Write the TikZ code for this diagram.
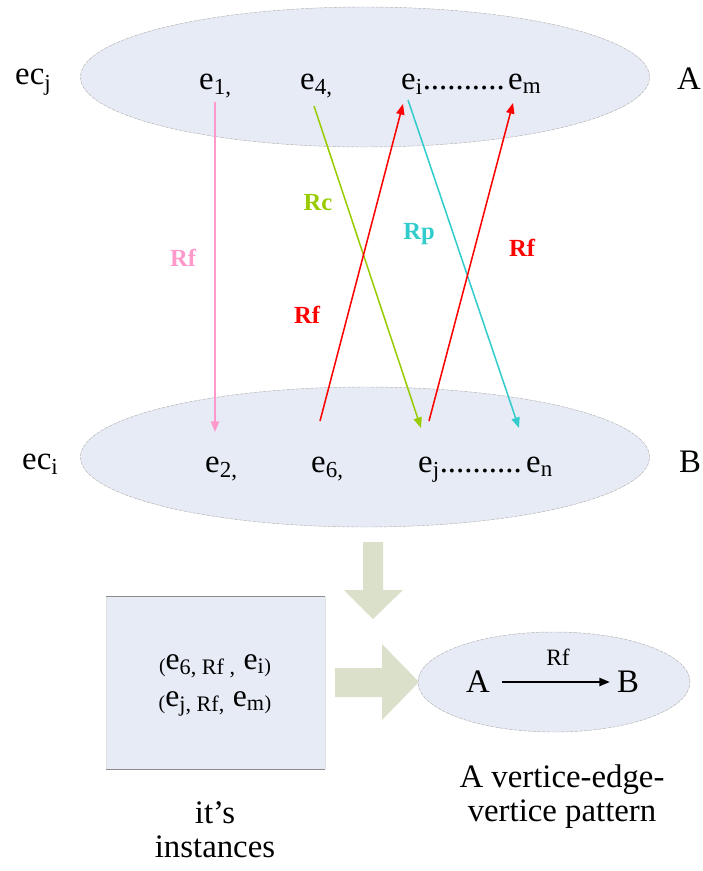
\documentclass[tikz,border=0pt]{standalone}
\usepackage{fontspec}
\setmainfont{Liberation Serif}
\usepackage{tikz}
\usetikzlibrary{calc}
\usetikzlibrary{shapes}
\usetikzlibrary{arrows.meta}

\definecolor{setblue}{HTML}{E6EBF5}
\definecolor{blockgreen}{HTML}{DBE0CA}
\definecolor{rfpink}{HTML}{FF99CC}
\definecolor{rcgreen}{HTML}{99CC00}
\definecolor{rpcyan}{HTML}{33CCCC}
\definecolor{rfred}{HTML}{FF0000}

\tikzset{
  setell/.style={ellipse, fill=setblue, draw=black!30, dash pattern=on 3pt off 1pt, line width=0.4pt, inner sep=0pt},
  elem/.style={inner sep=0pt, anchor=base west, font=\fontsize{28}{34}\selectfont},
  rel/.style={line width=1.3pt, -{Triangle[length=9pt,width=7pt]}},
  rellabel/.style={font=\fontsize{21}{25}\selectfont\bfseries},
  bigtxt/.style={inner sep=0pt, align=center, font=\fontsize{28}{29.8}\selectfont},
  insttxt/.style={inner sep=0pt, anchor=base, font=\fontsize{27}{30}\selectfont}
}
\newcommand{\smallpar}[1]{\raisebox{-3pt}{\fontsize{17}{20}\selectfont #1}}

\begin{document}
\begin{tikzpicture}[x=0.03cm, y=-0.03cm]
        \useasboundingbox (0,0) rectangle (702,871);

        % the two sets
        \node[setell, minimum width=17.07cm, minimum height=4.2cm] (setA) at (365,77) {};
        \node[setell, minimum width=17.07cm, minimum height=4.2cm] (setB) at (365,457) {};

        \node[elem] (ecj) at (15,85) {ec\textsubscript{j}};
        \node[elem] (eci) at (22,469) {ec\textsubscript{i}};
        \node[elem] (nameA) at (677,89) {A};
        \node[elem] (nameB) at (679,472) {B};

        \node[elem] (e1) at (199,89) {e\textsubscript{1,}};
        \node[elem] (e4) at (300,89) {e\textsubscript{4,}};
        \node[elem] (ei) at (401,89) {e\textsubscript{i}..........};
        \node[elem] (em) at (508,89) {e\textsubscript{m}};

        \node[elem] (e2) at (205,472) {e\textsubscript{2,}};
        \node[elem] (e6) at (311,472) {e\textsubscript{6,}};
        \node[elem] (ej) at (418,472) {e\textsubscript{j}..........};
        \node[elem] (en) at (526,472) {e\textsubscript{n}};

        % relations between the sets
        \draw[rel, rfpink] ($(e1.base west)+(16,13)$) -- ($(e2.base west)+(10,-40)$);
        \draw[rel, rcgreen] ($(e4.base west)+(14,17)$) -- ($(ej.base west)+(3,-44)$);
        \draw[rel, rfred] ($(e6.base west)+(9,-51)$) -- ($(ei.base west)+(2,15)$);
        \draw[rel, rpcyan] ($(ei.base west)+(7,11)$) -- ($(en.base west)+(-7,-44)$);
        \draw[rel, rfred] ($(ej.base west)+(11,-51)$) -- ($(em.base west)+(5,14)$);

        \node[rellabel, rfpink] (lab1) at (183,258) {Rf};
        \node[rellabel, rcgreen] (lab2) at (318,203) {Rc};
        \node[rellabel, rpcyan] (lab3) at (419,234) {Rp};
        \node[rellabel, rfred] (lab4) at (522,248) {Rf};
        \node[rellabel, rfred] (lab5) at (307,315) {Rf};

        % block arrows
        \fill[blockgreen] (363,542) -- (383,542) -- (383,590) -- (403,590) -- (373,619) -- (344,590) -- (363,590) -- cycle;
        \fill[blockgreen] (335,668) -- (382,668) -- (382,644) -- (419,682) -- (382,720) -- (382,697) -- (335,697) -- cycle;

        % instances
        \node[fill=setblue, minimum width=6.57cm, minimum height=5.16cm, inner sep=0pt] (inst) at (215.5,683) {};
        \draw[black!45, line width=0.8pt] (inst.north west) -- (inst.north east);
        \draw[black!45, line width=0.8pt] (inst.south west) -- (inst.south east);
        \draw[black!12, line width=0.4pt] (inst.north west) -- (inst.south west);
        \draw[black!12, line width=0.4pt] (inst.north east) -- (inst.south east);
        \node[insttxt] (inst1) at (215,669) {\smallpar{(}e\textsubscript{6, Rf ,} e\textsubscript{i}\smallpar{)}};
        \node[insttxt] (inst2) at (215,706) {\smallpar{(}e\textsubscript{j, Rf,} e\textsubscript{m}\smallpar{)}};
        \node[bigtxt, anchor=north] (instname) at (215,801) {it’s\\instances};

        % pattern
        \node[setell, minimum width=8.16cm, minimum height=3cm] (pat) at (554,682) {};
        \node[inner sep=0pt, font=\fontsize{28}{34}\selectfont] (pA) at (478,682) {A};
        \node[inner sep=0pt, font=\fontsize{28}{34}\selectfont] (pB) at (628,682) {B};
        \draw[line width=1.5pt, -{Triangle[length=9pt,width=7pt]}, shorten <=0.36cm, shorten >=0.21cm] (pA) -- (pB);
        \node[inner sep=0pt, font=\fontsize{20}{24}\selectfont] (pRf) at (558,657) {Rf};
        \node[bigtxt, anchor=north] (patname) at (562,764) {A vertice-edge-\\vertice pattern};
\end{tikzpicture}
\end{document}
